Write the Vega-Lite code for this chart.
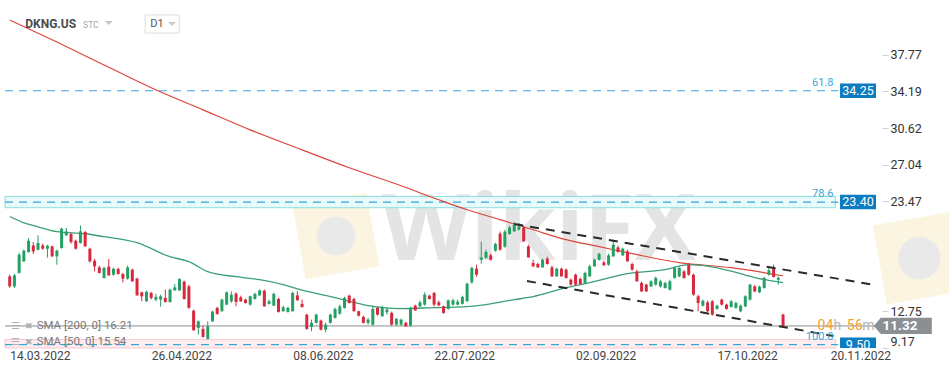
{
  "$schema": "https://vega.github.io/schema/vega-lite/v6.json",
  "width": 880,
  "height": 348,
  "autosize": {"type": "none"},
  "padding": {"left": 0, "top": 0, "right": 69, "bottom": 25},
  "background": "white",
  "config": {
    "view": {"stroke": null},
    "font": "Roboto",
    "axisX": {"domain": false, "ticks": false, "grid": false, "labelFontSize": 12, "labelColor": "#444444", "labelPadding": 2, "labelAlign": "left", "labelFont": "Roboto"},
    "axisY": {"domain": false, "grid": false, "tickSize": 6, "tickColor": "#d0d0d0", "labelFontSize": 12.5, "labelColor": "#333333", "labelPadding": 2, "offset": 2, "labelFlush": true, "labelFont": "Roboto"}
  },
  "datasets": {
    "candles": [
      {"n":0,"o":16.15,"h":16.32,"l":15.05,"c":15.18},
      {"n":1,"o":15.18,"h":16.42,"l":15.02,"c":16.25},
      {"n":2,"o":16.49,"h":18.46,"l":16.42,"c":18.27},
      {"n":3,"o":17.62,"h":18.76,"l":17.56,"c":18.66},
      {"n":4,"o":18.53,"h":19.89,"l":18.46,"c":19.63},
      {"n":5,"o":19.17,"h":19.50,"l":18.34,"c":18.59},
      {"n":6,"o":18.76,"h":20.15,"l":18.66,"c":19.41},
      {"n":7,"o":19.17,"h":19.34,"l":18.76,"c":18.85},
      {"n":8,"o":18.85,"h":19.24,"l":17.98,"c":19.14},
      {"n":9,"o":19.08,"h":19.14,"l":18.07,"c":18.10},
      {"n":10,"o":18.10,"h":18.76,"l":17.29,"c":18.66},
      {"n":11,"o":18.92,"h":20.90,"l":18.85,"c":20.80},
      {"n":12,"o":20.15,"h":20.87,"l":20.12,"c":20.54},
      {"n":13,"o":20.28,"h":20.41,"l":19.34,"c":19.50},
      {"n":14,"o":19.63,"h":19.73,"l":18.76,"c":18.85},
      {"n":15,"o":19.41,"h":21.12,"l":19.34,"c":20.54},
      {"n":16,"o":20.48,"h":20.61,"l":19.05,"c":19.08},
      {"n":17,"o":18.85,"h":18.95,"l":17.49,"c":17.62},
      {"n":18,"o":17.68,"h":17.88,"l":16.64,"c":17.13},
      {"n":19,"o":17.03,"h":17.20,"l":16.42,"c":16.49},
      {"n":20,"o":16.00,"h":17.10,"l":15.93,"c":16.97},
      {"n":21,"o":17.10,"h":17.85,"l":16.22,"c":16.25},
      {"n":22,"o":16.32,"h":17.00,"l":16.22,"c":16.90},
      {"n":23,"o":16.88,"h":17.00,"l":16.32,"c":16.39},
      {"n":24,"o":16.39,"h":16.51,"l":15.57,"c":15.93},
      {"n":25,"o":15.93,"h":17.20,"l":15.83,"c":17.03},
      {"n":26,"o":16.81,"h":16.90,"l":15.64,"c":15.67},
      {"n":27,"o":15.93,"h":16.03,"l":14.27,"c":14.30},
      {"n":28,"o":14.60,"h":14.66,"l":13.72,"c":14.21},
      {"n":29,"o":13.72,"h":14.76,"l":13.69,"c":14.64},
      {"n":30,"o":14.54,"h":14.64,"l":13.89,"c":14.05},
      {"n":31,"o":13.89,"h":14.44,"l":13.72,"c":14.15},
      {"n":32,"o":13.89,"h":14.37,"l":13.20,"c":14.21},
      {"n":33,"o":14.05,"h":14.86,"l":13.59,"c":13.66},
      {"n":34,"o":13.66,"h":14.96,"l":13.59,"c":14.86},
      {"n":35,"o":14.79,"h":15.41,"l":14.76,"c":15.08},
      {"n":36,"o":14.79,"h":15.96,"l":14.76,"c":15.90},
      {"n":37,"o":15.64,"h":15.74,"l":13.89,"c":13.95},
      {"n":38,"o":15.18,"h":15.35,"l":13.01,"c":13.08},
      {"n":39,"o":12.81,"h":12.91,"l":10.87,"c":10.89},
      {"n":40,"o":11.13,"h":11.85,"l":10.48,"c":11.77},
      {"n":41,"o":11.03,"h":11.35,"l":10.18,"c":10.25},
      {"n":42,"o":10.06,"h":11.77,"l":9.99,"c":11.28},
      {"n":43,"o":11.77,"h":12.81,"l":11.74,"c":12.72},
      {"n":44,"o":13.08,"h":13.20,"l":12.42,"c":12.49},
      {"n":45,"o":12.75,"h":13.98,"l":12.72,"c":13.89},
      {"n":46,"o":13.40,"h":14.69,"l":13.35,"c":14.60},
      {"n":47,"o":13.72,"h":14.69,"l":13.56,"c":14.37},
      {"n":48,"o":14.47,"h":14.60,"l":13.23,"c":13.66},
      {"n":49,"o":14.11,"h":14.27,"l":13.69,"c":13.72},
      {"n":50,"o":13.89,"h":13.98,"l":13.50,"c":13.56},
      {"n":51,"o":13.40,"h":14.27,"l":13.30,"c":14.21},
      {"n":52,"o":13.95,"h":14.57,"l":13.89,"c":14.44},
      {"n":53,"o":14.30,"h":14.86,"l":14.27,"c":14.79},
      {"n":54,"o":14.76,"h":14.86,"l":13.20,"c":13.23},
      {"n":55,"o":13.47,"h":13.89,"l":13.40,"c":13.72},
      {"n":56,"o":13.30,"h":14.57,"l":13.25,"c":14.44},
      {"n":57,"o":13.95,"h":14.08,"l":12.62,"c":12.69},
      {"n":58,"o":12.75,"h":13.30,"l":12.72,"c":13.14},
      {"n":59,"o":12.69,"h":13.20,"l":12.62,"c":13.08},
      {"n":60,"o":12.75,"h":14.66,"l":12.72,"c":14.54},
      {"n":61,"o":14.30,"h":14.69,"l":13.79,"c":13.82},
      {"n":62,"o":13.47,"h":13.89,"l":13.11,"c":13.17},
      {"n":63,"o":12.42,"h":12.52,"l":10.96,"c":11.03},
      {"n":64,"o":11.23,"h":11.94,"l":10.80,"c":11.62},
      {"n":65,"o":11.62,"h":12.52,"l":11.55,"c":12.42},
      {"n":66,"o":11.84,"h":11.94,"l":10.87,"c":10.96},
      {"n":67,"o":10.96,"h":11.65,"l":10.70,"c":11.45},
      {"n":68,"o":11.62,"h":12.52,"l":11.55,"c":12.42},
      {"n":69,"o":12.10,"h":13.11,"l":12.04,"c":12.98},
      {"n":70,"o":12.52,"h":13.40,"l":12.42,"c":13.23},
      {"n":71,"o":13.08,"h":14.18,"l":13.01,"c":14.05},
      {"n":72,"o":14.27,"h":14.37,"l":13.50,"c":13.56},
      {"n":73,"o":13.95,"h":14.08,"l":12.72,"c":12.75},
      {"n":74,"o":12.75,"h":12.81,"l":12.23,"c":12.33},
      {"n":75,"o":12.20,"h":12.33,"l":11.55,"c":11.62},
      {"n":76,"o":11.62,"h":12.10,"l":11.45,"c":11.94},
      {"n":77,"o":11.45,"h":13.30,"l":11.35,"c":12.98},
      {"n":78,"o":13.08,"h":13.20,"l":12.33,"c":12.42},
      {"n":79,"o":12.26,"h":13.30,"l":12.23,"c":13.17},
      {"n":80,"o":12.65,"h":13.17,"l":12.42,"c":12.91},
      {"n":81,"o":12.59,"h":12.72,"l":11.35,"c":11.45},
      {"n":82,"o":11.45,"h":12.10,"l":11.35,"c":12.01},
      {"n":83,"o":11.45,"h":12.04,"l":11.35,"c":11.94},
      {"n":84,"o":11.62,"h":11.74,"l":11.26,"c":11.28},
      {"n":85,"o":11.35,"h":13.20,"l":11.26,"c":13.08},
      {"n":86,"o":13.30,"h":13.40,"l":12.81,"c":12.84},
      {"n":87,"o":13.23,"h":13.79,"l":13.15,"c":13.62},
      {"n":88,"o":13.40,"h":14.60,"l":13.30,"c":14.37},
      {"n":89,"o":14.27,"h":14.37,"l":13.89,"c":13.95},
      {"n":90,"o":14.54,"h":14.64,"l":13.23,"c":13.40},
      {"n":91,"o":13.62,"h":13.79,"l":13.25,"c":13.33},
      {"n":92,"o":13.23,"h":13.30,"l":12.52,"c":12.59},
      {"n":93,"o":12.98,"h":13.89,"l":12.91,"c":13.82},
      {"n":94,"o":13.40,"h":13.98,"l":13.30,"c":13.82},
      {"n":95,"o":13.40,"h":13.89,"l":13.30,"c":13.69},
      {"n":96,"o":13.47,"h":14.27,"l":13.40,"c":14.15},
      {"n":97,"o":13.72,"h":15.54,"l":13.69,"c":15.44},
      {"n":98,"o":15.57,"h":17.10,"l":15.44,"c":16.97},
      {"n":99,"o":16.90,"h":17.29,"l":16.13,"c":16.32},
      {"n":100,"o":17.78,"h":19.53,"l":17.39,"c":18.00},
      {"n":101,"o":17.95,"h":18.76,"l":17.88,"c":18.53},
      {"n":102,"o":18.20,"h":18.37,"l":17.68,"c":17.78},
      {"n":103,"o":18.66,"h":19.44,"l":18.56,"c":19.31},
      {"n":104,"o":20.31,"h":20.52,"l":18.66,"c":18.76},
      {"n":105,"o":19.05,"h":20.70,"l":18.95,"c":20.51},
      {"n":106,"o":20.28,"h":21.09,"l":20.22,"c":20.93},
      {"n":107,"o":20.54,"h":21.48,"l":20.51,"c":21.19},
      {"n":108,"o":20.70,"h":21.36,"l":20.61,"c":21.02},
      {"n":109,"o":20.93,"h":21.09,"l":19.53,"c":19.56},
      {"n":110,"o":19.08,"h":19.24,"l":17.98,"c":18.00},
      {"n":111,"o":17.46,"h":17.78,"l":17.10,"c":17.13},
      {"n":112,"o":17.36,"h":17.49,"l":17.00,"c":17.03},
      {"n":113,"o":17.03,"h":17.88,"l":17.00,"c":17.78},
      {"n":114,"o":17.88,"h":18.07,"l":17.29,"c":17.36},
      {"n":115,"o":17.03,"h":17.20,"l":16.13,"c":16.15},
      {"n":116,"o":16.15,"h":17.00,"l":16.13,"c":16.90},
      {"n":117,"o":16.90,"h":17.00,"l":16.13,"c":16.15},
      {"n":118,"o":16.81,"h":16.90,"l":15.93,"c":16.00},
      {"n":119,"o":15.83,"h":15.93,"l":15.25,"c":15.35},
      {"n":120,"o":16.32,"h":16.42,"l":15.25,"c":15.35},
      {"n":121,"o":15.90,"h":16.03,"l":15.35,"c":15.41},
      {"n":122,"o":15.51,"h":16.61,"l":15.44,"c":16.49},
      {"n":123,"o":16.15,"h":17.29,"l":16.13,"c":17.13},
      {"n":124,"o":17.13,"h":17.88,"l":17.10,"c":17.78},
      {"n":125,"o":17.78,"h":18.46,"l":17.68,"c":18.34},
      {"n":126,"o":17.52,"h":17.68,"l":17.20,"c":17.23},
      {"n":127,"o":17.29,"h":18.37,"l":17.20,"c":18.20},
      {"n":128,"o":18.10,"h":19.73,"l":18.07,"c":19.24},
      {"n":129,"o":18.98,"h":19.14,"l":18.46,"c":18.53},
      {"n":130,"o":18.20,"h":18.95,"l":18.17,"c":18.85},
      {"n":131,"o":18.59,"h":18.76,"l":17.59,"c":17.62},
      {"n":132,"o":17.36,"h":17.49,"l":16.71,"c":16.81},
      {"n":133,"o":16.64,"h":16.81,"l":15.64,"c":15.67},
      {"n":134,"o":15.51,"h":15.64,"l":14.62,"c":14.69},
      {"n":135,"o":15.35,"h":15.44,"l":14.62,"c":14.69},
      {"n":136,"o":15.18,"h":15.78,"l":15.10,"c":15.67},
      {"n":137,"o":15.35,"h":16.13,"l":15.25,"c":16.00},
      {"n":138,"o":15.18,"h":15.83,"l":15.05,"c":15.67},
      {"n":139,"o":15.02,"h":15.64,"l":14.96,"c":15.51},
      {"n":140,"o":14.86,"h":15.83,"l":14.76,"c":15.67},
      {"n":141,"o":16.00,"h":17.10,"l":15.93,"c":16.97},
      {"n":142,"o":16.15,"h":17.10,"l":16.08,"c":16.97},
      {"n":143,"o":16.64,"h":16.76,"l":15.93,"c":16.00},
      {"n":144,"o":17.29,"h":17.46,"l":16.22,"c":16.32},
      {"n":145,"o":16.32,"h":16.42,"l":14.27,"c":14.37},
      {"n":146,"o":14.21,"h":14.37,"l":12.75,"c":13.56},
      {"n":147,"o":13.30,"h":13.89,"l":13.20,"c":13.79},
      {"n":148,"o":13.62,"h":13.79,"l":12.67,"c":12.75},
      {"n":149,"o":13.72,"h":13.84,"l":12.33,"c":12.42},
      {"n":150,"o":12.98,"h":13.40,"l":12.91,"c":13.30},
      {"n":151,"o":13.89,"h":13.98,"l":13.30,"c":13.40},
      {"n":152,"o":13.40,"h":13.50,"l":12.91,"c":12.98},
      {"n":153,"o":13.17,"h":13.84,"l":13.11,"c":13.72},
      {"n":154,"o":13.08,"h":13.69,"l":13.01,"c":13.56},
      {"n":155,"o":12.75,"h":13.40,"l":12.67,"c":13.30},
      {"n":156,"o":13.23,"h":14.32,"l":13.15,"c":14.21},
      {"n":157,"o":13.89,"h":15.44,"l":13.79,"c":15.35},
      {"n":158,"o":15.18,"h":15.30,"l":14.62,"c":14.69},
      {"n":159,"o":14.60,"h":15.25,"l":14.52,"c":15.15},
      {"n":160,"o":15.02,"h":16.13,"l":14.96,"c":16.00},
      {"n":161,"o":16.32,"h":16.97,"l":16.22,"c":16.74},
      {"n":162,"o":16.97,"h":17.29,"l":16.03,"c":16.10},
      {"n":163,"o":15.83,"h":16.15,"l":15.35,"c":16.00},
      {"n":164,"o":12.42,"h":12.52,"l":11.26,"c":11.32}
    ],
    "sma200": [
      {"n":0,"v":41.15},{"n":10,"v":39.0},{"n":20,"v":36.77},{"n":30,"v":34.55},{"n":41,"v":32.39},
      {"n":51,"v":30.44},{"n":62,"v":28.49},{"n":72,"v":26.74},{"n":83,"v":24.99},{"n":91,"v":23.62},
      {"n":97,"v":22.65},{"n":104,"v":21.68},{"n":111,"v":20.70},{"n":118,"v":19.73},{"n":125,"v":19.05},
      {"n":132,"v":18.37},{"n":142,"v":17.49},{"n":153,"v":17.00},{"n":164,"v":16.21}
    ],
    "sma50": [
      {"n":0,"v":21.99},{"n":3,"v":21.38},{"n":6,"v":20.99},{"n":10,"v":20.51},{"n":16,"v":20.31},
      {"n":20,"v":20.02},{"n":27,"v":19.44},{"n":34,"v":18.07},{"n":38,"v":17.59},{"n":42,"v":16.61},
      {"n":48,"v":16.12},{"n":53,"v":15.83},{"n":58,"v":15.35},{"n":62,"v":14.81},{"n":69,"v":14.08},
      {"n":76,"v":13.30},{"n":83,"v":13.01},{"n":90,"v":13.11},{"n":97,"v":13.21},{"n":101,"v":13.40},
      {"n":107,"v":13.89},{"n":111,"v":14.18},{"n":118,"v":15.05},{"n":123,"v":15.54},{"n":131,"v":16.42},
      {"n":139,"v":16.81},{"n":144,"v":17.30},{"n":148,"v":17.15},{"n":153,"v":16.66},{"n":158,"v":16.03},
      {"n":164,"v":15.54}
    ],
    "trend": [
      {"line":"upper","n":107,"v":21.26},{"line":"upper","n":183.5,"v":15.31},
      {"line":"lower","n":109.7,"v":15.70},{"line":"lower","n":174.7,"v":10.34}
    ],
    "levels": [
      {"level":"61.8","price":34.25},{"level":"78.6","price":23.40},{"level":"100.0","price":9.50}
    ],
    "bands": [
      {"zone":"78.6","top":23.95,"bottom":22.85},{"zone":"100.0","top":9.99,"bottom":9.17}
    ]
  },
  "layer": [
    {
      "data": {"values": [{}]},
      "mark": {"type": "point", "shape": "square", "filled": true, "color": "#fbf4e0", "opacity": 1, "size": 5600, "angle": -10},
      "encoding": {"x": {"datum": 69.2, "type": "quantitative"}, "y": {"datum": 20.09, "type": "quantitative"}}
    },
    {
      "data": {"values": [{}]},
      "mark": {"type": "point", "shape": "circle", "filled": true, "color": "#e9e9e9", "opacity": 1, "size": 1500},
      "encoding": {"x": {"datum": 69.2, "type": "quantitative"}, "y": {"datum": 20.09, "type": "quantitative"}}
    },
    {
      "data": {"values": [{}]},
      "mark": {"type": "point", "shape": "square", "filled": true, "color": "#fbf4e0", "opacity": 1, "size": 6400, "angle": -10},
      "encoding": {"x": {"datum": 192.9, "type": "quantitative"}, "y": {"datum": 17.94, "type": "quantitative"}}
    },
    {
      "data": {"values": [{}]},
      "mark": {"type": "point", "shape": "circle", "filled": true, "color": "#e9e9e9", "opacity": 1, "size": 1800},
      "encoding": {"x": {"datum": 192.9, "type": "quantitative"}, "y": {"datum": 17.94, "type": "quantitative"}}
    },
    {
      "data": {"values": [{}]},
      "mark": {"type": "text", "text": "WikiFX", "font": "Open Sans", "fontSize": 92, "fontWeight": "bold", "color": "#e4e4e4", "align": "center", "baseline": "middle"},
      "encoding": {"x": {"datum": 112.2, "type": "quantitative"}, "y": {"datum": 20.48, "type": "quantitative"}}
    },
    {
      "data": {"name": "bands"},
      "mark": {"type": "rect", "strokeWidth": 1},
      "encoding": {
        "x": {"datum": -1, "type": "quantitative"},
        "x2": {"datum": 175.1},
        "y": {"field": "top", "type": "quantitative", "title": null},
        "y2": {"field": "bottom"},
        "fill": {"field": "zone", "type": "nominal", "scale": {"domain": ["78.6", "100.0"], "range": ["#e9fafb", "#fdedf0"]}, "legend": null},
        "stroke": {"field": "zone", "type": "nominal", "scale": {"domain": ["78.6", "100.0"], "range": ["#8adfe0", "#f6c6cd"]}, "legend": null}
      }
    },
    {
      "data": {"name": "levels"},
      "mark": {"type": "rule", "strokeDash": [8, 6], "strokeWidth": 1.2, "color": "#35a8d6"},
      "encoding": {
        "x": {"datum": -1, "type": "quantitative"},
        "x2": {"datum": 175.7},
        "y": {"field": "price", "type": "quantitative", "title": null}
      }
    },
    {
      "data": {"values": [{}]},
      "mark": {"type": "rule", "color": "#8c8c8c", "strokeWidth": 1},
      "encoding": {
        "x": {"datum": -1, "type": "quantitative"},
        "x2": {"datum": 183.5},
        "y": {"datum": 11.32, "type": "quantitative"}
      }
    },
    {
      "data": {"name": "sma200"},
      "mark": {"type": "line", "color": "#e0443a", "strokeWidth": 1.2, "interpolate": "monotone"},
      "encoding": {
        "x": {"field": "n", "type": "quantitative", "title": null},
        "y": {"field": "v", "type": "quantitative", "title": null}
      }
    },
    {
      "data": {"name": "sma50"},
      "mark": {"type": "line", "color": "#3a9f76", "strokeWidth": 1.3, "interpolate": "monotone"},
      "encoding": {
        "x": {"field": "n", "type": "quantitative", "title": null},
        "y": {"field": "v", "type": "quantitative", "title": null}
      }
    },
    {
      "data": {"name": "candles"},
      "mark": {"type": "rule", "strokeWidth": 1},
      "encoding": {
        "x": {
          "field": "n", "type": "quantitative", "title": null,
          "scale": {"domain": [-1, 183.5], "nice": false, "zero": false},
          "axis": {"orient": "bottom", "values": [0, 30, 60, 90, 120, 150, 174],
            "labelExpr": "datum.value==0?'14.03.2022':datum.value==30?'26.04.2022':datum.value==60?'08.06.2022':datum.value==90?'22.07.2022':datum.value==120?'02.09.2022':datum.value==150?'17.10.2022':'20.11.2022'"}
        },
        "y": {
          "field": "l", "type": "quantitative", "title": null,
          "scale": {"domain": [9.17, 43.1], "nice": false, "zero": false},
          "axis": {"orient": "right", "values": [9.17, 12.75, 16.32, 19.9, 23.47, 27.04, 30.62, 34.19, 37.77], "format": ".2f"}
        },
        "y2": {"field": "h"},
        "color": {"condition": {"test": "datum.c >= datum.o", "value": "#24a064"}, "value": "#d7283c"}
      }
    },
    {
      "data": {"name": "candles"},
      "mark": {"type": "bar", "size": 3},
      "encoding": {
        "x": {"field": "n", "type": "quantitative", "title": null},
        "y": {"field": "o", "type": "quantitative", "title": null},
        "y2": {"field": "c"},
        "color": {"condition": {"test": "datum.c >= datum.o", "value": "#24a064"}, "value": "#d7283c"}
      }
    },
    {
      "data": {"name": "trend"},
      "mark": {"type": "line", "color": "#2a2a2a", "strokeWidth": 2, "strokeDash": [9, 7]},
      "encoding": {
        "x": {"field": "n", "type": "quantitative", "title": null},
        "y": {"field": "v", "type": "quantitative", "title": null},
        "detail": {"field": "line", "type": "nominal"}
      }
    },
    {
      "data": {"name": "levels"},
      "mark": {"type": "text", "align": "right", "baseline": "alphabetic", "dy": -5, "fontSize": 11, "color": "#36a9d8"},
      "encoding": {
        "x": {"datum": 174.7, "type": "quantitative"},
        "y": {"field": "price", "type": "quantitative", "title": null},
        "text": {"field": "level", "type": "nominal"}
      }
    },
    {
      "data": {"name": "levels"},
      "mark": {"type": "point", "shape": "M-1,-0.4H1V0.4H-1Z", "filled": true, "color": "#0b7cc1", "opacity": 1, "size": 1296, "clip": true},
      "encoding": {
        "x": {"datum": 179.9, "type": "quantitative"},
        "y": {"field": "price", "type": "quantitative", "title": null}
      }
    },
    {
      "data": {"name": "levels"},
      "mark": {"type": "text", "align": "center", "baseline": "middle", "fontSize": 12.5, "color": "white", "clip": true},
      "encoding": {
        "x": {"datum": 179.9, "type": "quantitative"},
        "y": {"field": "price", "type": "quantitative", "title": null},
        "text": {"field": "price", "type": "quantitative", "format": ".2f"}
      }
    },
    {
      "data": {"values": [{}]},
      "mark": {"type": "point", "shape": "M-1,0L-0.76,-0.28L1,-0.28L1,0.28L-0.76,0.28Z", "filled": true, "color": "#8a8f94", "opacity": 1, "size": 3364},
      "encoding": {"x": {"datum": 189.4, "type": "quantitative"}, "y": {"datum": 11.32, "type": "quantitative"}}
    },
    {
      "data": {"values": [{}]},
      "mark": {"type": "text", "text": "11.32", "align": "center", "baseline": "middle", "fontSize": 13.5, "fontWeight": "bold", "color": "white"},
      "encoding": {"x": {"datum": 188.8, "type": "quantitative"}, "y": {"datum": 11.32, "type": "quantitative"}}
    },
    {
      "data": {"values": [{}]},
      "mark": {"type": "text", "text": "04", "align": "center", "baseline": "middle", "fontSize": 14, "color": "#f0a232"},
      "encoding": {"x": {"datum": 173.0, "type": "quantitative"}, "y": {"datum": 11.32, "type": "quantitative"}}
    },
    {
      "data": {"values": [{}]},
      "mark": {"type": "text", "text": "h", "align": "center", "baseline": "middle", "fontSize": 14, "color": "#b4b4b4"},
      "encoding": {"x": {"datum": 175.5, "type": "quantitative"}, "y": {"datum": 11.32, "type": "quantitative"}}
    },
    {
      "data": {"values": [{}]},
      "mark": {"type": "text", "text": "56", "align": "center", "baseline": "middle", "fontSize": 14, "color": "#f0a232"},
      "encoding": {"x": {"datum": 179.2, "type": "quantitative"}, "y": {"datum": 11.32, "type": "quantitative"}}
    },
    {
      "data": {"values": [{}]},
      "mark": {"type": "text", "text": "m", "align": "center", "baseline": "middle", "fontSize": 14, "color": "#b4b4b4"},
      "encoding": {"x": {"datum": 182.1, "type": "quantitative"}, "y": {"datum": 11.32, "type": "quantitative"}}
    },
    {
      "data": {"values": [{}]},
      "mark": {"type": "text", "text": "☰", "align": "center", "baseline": "middle", "fontSize": 10, "color": "#b0b0b0"},
      "encoding": {"x": {"datum": 1.3, "type": "quantitative"}, "y": {"datum": 11.35, "type": "quantitative"}}
    },
    {
      "data": {"values": [{}]},
      "mark": {"type": "text", "text": "✖", "align": "center", "baseline": "middle", "fontSize": 9, "color": "#b0b0b0"},
      "encoding": {"x": {"datum": 4.03, "type": "quantitative"}, "y": {"datum": 11.35, "type": "quantitative"}}
    },
    {
      "data": {"values": [{}]},
      "mark": {"type": "text", "text": "SMA [200, 0] 16.21", "align": "left", "baseline": "middle", "fontSize": 11.5, "color": "#7a7a7a"},
      "encoding": {"x": {"datum": 5.71, "type": "quantitative"}, "y": {"datum": 11.35, "type": "quantitative"}}
    },
    {
      "data": {"values": [{}]},
      "mark": {"type": "text", "text": "☰", "align": "center", "baseline": "middle", "fontSize": 10, "color": "#b0b0b0"},
      "encoding": {"x": {"datum": 1.3, "type": "quantitative"}, "y": {"datum": 9.8, "type": "quantitative"}}
    },
    {
      "data": {"values": [{}]},
      "mark": {"type": "text", "text": "✖", "align": "center", "baseline": "middle", "fontSize": 9, "color": "#b0b0b0"},
      "encoding": {"x": {"datum": 4.03, "type": "quantitative"}, "y": {"datum": 9.8, "type": "quantitative"}}
    },
    {
      "data": {"values": [{}]},
      "mark": {"type": "text", "text": "SMA [50, 0] 15.54", "align": "left", "baseline": "middle", "fontSize": 11.5, "color": "#7a7a7a"},
      "encoding": {"x": {"datum": 5.71, "type": "quantitative"}, "y": {"datum": 9.8, "type": "quantitative"}}
    },
    {
      "data": {"values": [{}]},
      "mark": {"type": "text", "text": "DKNG.US", "align": "left", "baseline": "middle", "fontSize": 12, "fontWeight": "bold", "color": "#4a4a4a"},
      "encoding": {"x": {"datum": 3.3, "type": "quantitative"}, "y": {"datum": 40.76, "type": "quantitative"}}
    },
    {
      "data": {"values": [{}]},
      "mark": {"type": "text", "text": "STC", "align": "left", "baseline": "middle", "fontSize": 8.5, "color": "#a8a8a8"},
      "encoding": {"x": {"datum": 15.56, "type": "quantitative"}, "y": {"datum": 40.7, "type": "quantitative"}}
    },
    {
      "data": {"values": [{}]},
      "mark": {"type": "point", "shape": "M-1,-0.5L1,-0.5L0,0.5Z", "filled": true, "color": "#c8c8c8", "opacity": 1, "size": 64},
      "encoding": {"x": {"datum": 21.0, "type": "quantitative"}, "y": {"datum": 40.86, "type": "quantitative"}}
    },
    {
      "data": {"values": [{}]},
      "mark": {"type": "point", "shape": "M-1,-0.53H1V0.53H-1Z", "filled": true, "fill": "white", "stroke": "#dcdcdc", "strokeWidth": 1, "opacity": 1, "size": 1156},
      "encoding": {"x": {"datum": 32.33, "type": "quantitative"}, "y": {"datum": 40.76, "type": "quantitative"}}
    },
    {
      "data": {"values": [{}]},
      "mark": {"type": "text", "text": "D1", "align": "left", "baseline": "middle", "fontSize": 11, "color": "#555555"},
      "encoding": {"x": {"datum": 29.82, "type": "quantitative"}, "y": {"datum": 40.76, "type": "quantitative"}}
    },
    {
      "data": {"values": [{}]},
      "mark": {"type": "point", "shape": "M-1,-0.5L1,-0.5L0,0.5Z", "filled": true, "color": "#c8c8c8", "opacity": 1, "size": 64},
      "encoding": {"x": {"datum": 34.43, "type": "quantitative"}, "y": {"datum": 40.76, "type": "quantitative"}}
    }
  ]
}
